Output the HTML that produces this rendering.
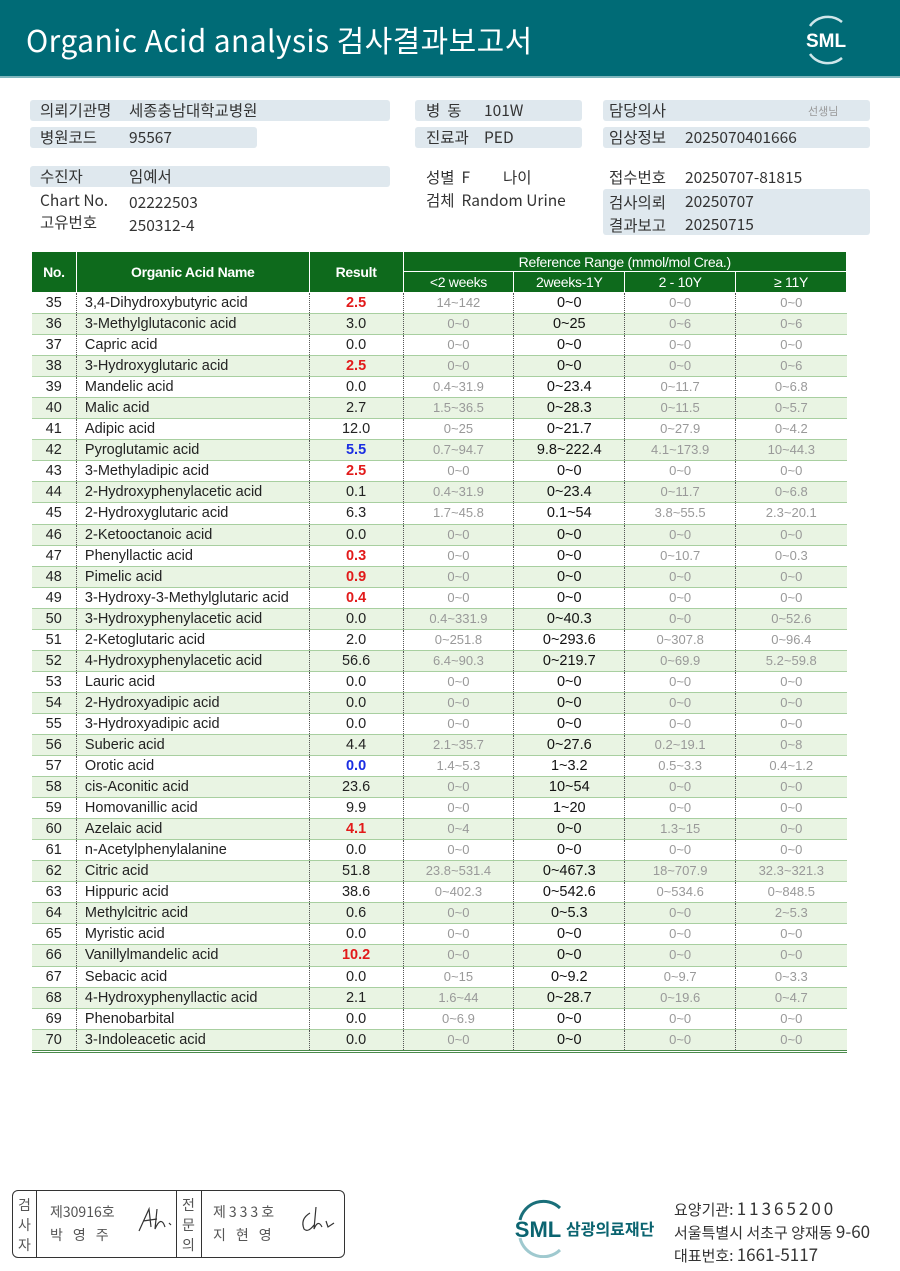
<!DOCTYPE html>
<html><head><meta charset="utf-8">
<style>
*{margin:0;padding:0;box-sizing:border-box}
body{width:900px;height:1271px;background:#fff;position:relative;overflow:hidden;font-family:"Liberation Sans","Noto Sans CJK KR",sans-serif;color:#222}
.hdr{position:absolute;left:0;top:0;width:900px;height:78px;background:#006b76;border-bottom:2px solid #7fb6bd}
.title{position:absolute;left:26px;top:17px;color:#fff;font-size:30px;letter-spacing:0.4px;font-family:"Noto Sans CJK KR","Liberation Sans",sans-serif}
.box{position:absolute;background:#dfe8ee;border-radius:3px}
.t{position:absolute;font-size:15.5px;color:#333;font-family:"Noto Sans CJK KR","Liberation Sans",sans-serif;line-height:20px;white-space:nowrap}
table{position:absolute;left:31px;top:251px;border-collapse:collapse;width:816px;font-size:14.5px}
th{background:#0e6a1c;color:#fff;font-weight:bold;font-size:14px;border:1px solid #fff;letter-spacing:-0.3px}
td{height:21.06px;border-bottom:1px solid #a8cfa0;border-right:1px dotted #555;text-align:center;padding:0;line-height:20px}
td:last-child{border-right:none}
td:nth-child(2){text-align:left;padding-left:8px}
tr.e td{background:#e9f4e3}
td.g{color:#999;font-size:13px}
td.b{color:#111}
.r{color:#e21a1a;font-weight:bold}
.bl{color:#1a2ee2;font-weight:bold}
tbody tr:last-child td{border-bottom:3px double #4a8a4a}
</style></head><body>
<div class="hdr"></div>
<div class="title">Organic Acid analysis 검사결과보고서</div>
<svg style="position:absolute;left:800px;top:12px" width="52" height="54" viewBox="0 0 52 54">
<path d="M10 14 A22 22 0 0 1 42 10" fill="none" stroke="#cfe6ea" stroke-width="2.5"/>
<path d="M10 42 A22 22 0 0 0 42 46" fill="none" stroke="#cfe6ea" stroke-width="2.5"/>
<text x="26" y="35" fill="#fff" font-size="19" font-weight="bold" text-anchor="middle" font-family="Liberation Sans">SML</text>
</svg>

<div class="box" style="left:30px;top:100px;width:360px;height:21px"></div>
<div class="box" style="left:30px;top:127px;width:227px;height:21px"></div>
<div class="box" style="left:415px;top:100px;width:167px;height:21px"></div>
<div class="box" style="left:415px;top:127px;width:167px;height:21px"></div>
<div class="box" style="left:603px;top:100px;width:267px;height:21px"></div>
<div class="box" style="left:603px;top:127px;width:267px;height:21px"></div>
<div class="box" style="left:30px;top:166px;width:360px;height:21px"></div>
<div class="box" style="left:603px;top:189px;width:267px;height:46px"></div>

<div class="t" style="left:40px;top:100px">의뢰기관명</div><div class="t" style="left:129px;top:100px">세종충남대학교병원</div>
<div class="t" style="left:40px;top:127px">병원코드</div><div class="t" style="left:129px;top:127px">95567</div>
<div class="t" style="left:426px;top:100px">병 &nbsp;동</div><div class="t" style="left:484px;top:100px">101W</div>
<div class="t" style="left:426px;top:127px">진료과</div><div class="t" style="left:484px;top:127px">PED</div>
<div class="t" style="left:609px;top:100px">담당의사</div><div class="t" style="left:808px;top:101px;font-size:11px;color:#999">선생님</div>
<div class="t" style="left:609px;top:127px">임상정보</div><div class="t" style="left:685px;top:127px">2025070401666</div>
<div class="t" style="left:40px;top:166px">수진자</div><div class="t" style="left:129px;top:166px">임예서</div>
<div class="t" style="left:40px;top:190px">Chart No.</div><div class="t" style="left:129px;top:192px">02222503</div>
<div class="t" style="left:40px;top:212px">고유번호</div><div class="t" style="left:129px;top:215px">250312-4</div>
<div class="t" style="left:426px;top:167px">성별 &nbsp;F</div><div class="t" style="left:503px;top:167px">나이</div>
<div class="t" style="left:426px;top:190px">검체 &nbsp;Random Urine</div>
<div class="t" style="left:609px;top:167px">접수번호</div><div class="t" style="left:685px;top:167px">20250707-81815</div>
<div class="t" style="left:609px;top:192px">검사의뢰</div><div class="t" style="left:685px;top:191px">20250707</div>
<div class="t" style="left:609px;top:215px">결과보고</div><div class="t" style="left:685px;top:214px">20250715</div>

<table>
<colgroup><col style="width:45px"><col style="width:233px"><col style="width:94px"><col style="width:111px"><col style="width:111px"><col style="width:111px"><col style="width:111px"></colgroup>
<thead>
<tr><th rowspan="2" style="height:41px">No.</th><th rowspan="2">Organic Acid Name</th><th rowspan="2">Result</th><th colspan="4" style="height:20px;font-weight:normal">Reference Range (mmol/mol Crea.)</th></tr>
<tr><th style="height:21px;font-weight:normal">&lt;2 weeks</th><th style="font-weight:normal">2weeks-1Y</th><th style="font-weight:normal">2 - 10Y</th><th style="font-weight:normal">≥ 11Y</th></tr>
</thead>
<tbody>
<tr><td>35</td><td>3,4-Dihydroxybutyric acid</td><td class="r">2.5</td><td class="g">14~142</td><td class="b">0~0</td><td class="g">0~0</td><td class="g">0~0</td></tr>
<tr class="e"><td>36</td><td>3-Methylglutaconic acid</td><td>3.0</td><td class="g">0~0</td><td class="b">0~25</td><td class="g">0~6</td><td class="g">0~6</td></tr>
<tr><td>37</td><td>Capric acid</td><td>0.0</td><td class="g">0~0</td><td class="b">0~0</td><td class="g">0~0</td><td class="g">0~0</td></tr>
<tr class="e"><td>38</td><td>3-Hydroxyglutaric acid</td><td class="r">2.5</td><td class="g">0~0</td><td class="b">0~0</td><td class="g">0~0</td><td class="g">0~6</td></tr>
<tr><td>39</td><td>Mandelic acid</td><td>0.0</td><td class="g">0.4~31.9</td><td class="b">0~23.4</td><td class="g">0~11.7</td><td class="g">0~6.8</td></tr>
<tr class="e"><td>40</td><td>Malic acid</td><td>2.7</td><td class="g">1.5~36.5</td><td class="b">0~28.3</td><td class="g">0~11.5</td><td class="g">0~5.7</td></tr>
<tr><td>41</td><td>Adipic acid</td><td>12.0</td><td class="g">0~25</td><td class="b">0~21.7</td><td class="g">0~27.9</td><td class="g">0~4.2</td></tr>
<tr class="e"><td>42</td><td>Pyroglutamic acid</td><td class="bl">5.5</td><td class="g">0.7~94.7</td><td class="b">9.8~222.4</td><td class="g">4.1~173.9</td><td class="g">10~44.3</td></tr>
<tr><td>43</td><td>3-Methyladipic acid</td><td class="r">2.5</td><td class="g">0~0</td><td class="b">0~0</td><td class="g">0~0</td><td class="g">0~0</td></tr>
<tr class="e"><td>44</td><td>2-Hydroxyphenylacetic acid</td><td>0.1</td><td class="g">0.4~31.9</td><td class="b">0~23.4</td><td class="g">0~11.7</td><td class="g">0~6.8</td></tr>
<tr><td>45</td><td>2-Hydroxyglutaric acid</td><td>6.3</td><td class="g">1.7~45.8</td><td class="b">0.1~54</td><td class="g">3.8~55.5</td><td class="g">2.3~20.1</td></tr>
<tr class="e"><td>46</td><td>2-Ketooctanoic acid</td><td>0.0</td><td class="g">0~0</td><td class="b">0~0</td><td class="g">0~0</td><td class="g">0~0</td></tr>
<tr><td>47</td><td>Phenyllactic acid</td><td class="r">0.3</td><td class="g">0~0</td><td class="b">0~0</td><td class="g">0~10.7</td><td class="g">0~0.3</td></tr>
<tr class="e"><td>48</td><td>Pimelic acid</td><td class="r">0.9</td><td class="g">0~0</td><td class="b">0~0</td><td class="g">0~0</td><td class="g">0~0</td></tr>
<tr><td>49</td><td>3-Hydroxy-3-Methylglutaric acid</td><td class="r">0.4</td><td class="g">0~0</td><td class="b">0~0</td><td class="g">0~0</td><td class="g">0~0</td></tr>
<tr class="e"><td>50</td><td>3-Hydroxyphenylacetic acid</td><td>0.0</td><td class="g">0.4~331.9</td><td class="b">0~40.3</td><td class="g">0~0</td><td class="g">0~52.6</td></tr>
<tr><td>51</td><td>2-Ketoglutaric acid</td><td>2.0</td><td class="g">0~251.8</td><td class="b">0~293.6</td><td class="g">0~307.8</td><td class="g">0~96.4</td></tr>
<tr class="e"><td>52</td><td>4-Hydroxyphenylacetic acid</td><td>56.6</td><td class="g">6.4~90.3</td><td class="b">0~219.7</td><td class="g">0~69.9</td><td class="g">5.2~59.8</td></tr>
<tr><td>53</td><td>Lauric acid</td><td>0.0</td><td class="g">0~0</td><td class="b">0~0</td><td class="g">0~0</td><td class="g">0~0</td></tr>
<tr class="e"><td>54</td><td>2-Hydroxyadipic acid</td><td>0.0</td><td class="g">0~0</td><td class="b">0~0</td><td class="g">0~0</td><td class="g">0~0</td></tr>
<tr><td>55</td><td>3-Hydroxyadipic acid</td><td>0.0</td><td class="g">0~0</td><td class="b">0~0</td><td class="g">0~0</td><td class="g">0~0</td></tr>
<tr class="e"><td>56</td><td>Suberic acid</td><td>4.4</td><td class="g">2.1~35.7</td><td class="b">0~27.6</td><td class="g">0.2~19.1</td><td class="g">0~8</td></tr>
<tr><td>57</td><td>Orotic acid</td><td class="bl">0.0</td><td class="g">1.4~5.3</td><td class="b">1~3.2</td><td class="g">0.5~3.3</td><td class="g">0.4~1.2</td></tr>
<tr class="e"><td>58</td><td>cis-Aconitic acid</td><td>23.6</td><td class="g">0~0</td><td class="b">10~54</td><td class="g">0~0</td><td class="g">0~0</td></tr>
<tr><td>59</td><td>Homovanillic acid</td><td>9.9</td><td class="g">0~0</td><td class="b">1~20</td><td class="g">0~0</td><td class="g">0~0</td></tr>
<tr class="e"><td>60</td><td>Azelaic acid</td><td class="r">4.1</td><td class="g">0~4</td><td class="b">0~0</td><td class="g">1.3~15</td><td class="g">0~0</td></tr>
<tr><td>61</td><td>n-Acetylphenylalanine</td><td>0.0</td><td class="g">0~0</td><td class="b">0~0</td><td class="g">0~0</td><td class="g">0~0</td></tr>
<tr class="e"><td>62</td><td>Citric acid</td><td>51.8</td><td class="g">23.8~531.4</td><td class="b">0~467.3</td><td class="g">18~707.9</td><td class="g">32.3~321.3</td></tr>
<tr><td>63</td><td>Hippuric acid</td><td>38.6</td><td class="g">0~402.3</td><td class="b">0~542.6</td><td class="g">0~534.6</td><td class="g">0~848.5</td></tr>
<tr class="e"><td>64</td><td>Methylcitric acid</td><td>0.6</td><td class="g">0~0</td><td class="b">0~5.3</td><td class="g">0~0</td><td class="g">2~5.3</td></tr>
<tr><td>65</td><td>Myristic acid</td><td>0.0</td><td class="g">0~0</td><td class="b">0~0</td><td class="g">0~0</td><td class="g">0~0</td></tr>
<tr class="e"><td>66</td><td>Vanillylmandelic acid</td><td class="r">10.2</td><td class="g">0~0</td><td class="b">0~0</td><td class="g">0~0</td><td class="g">0~0</td></tr>
<tr><td>67</td><td>Sebacic acid</td><td>0.0</td><td class="g">0~15</td><td class="b">0~9.2</td><td class="g">0~9.7</td><td class="g">0~3.3</td></tr>
<tr class="e"><td>68</td><td>4-Hydroxyphenyllactic acid</td><td>2.1</td><td class="g">1.6~44</td><td class="b">0~28.7</td><td class="g">0~19.6</td><td class="g">0~4.7</td></tr>
<tr><td>69</td><td>Phenobarbital</td><td>0.0</td><td class="g">0~6.9</td><td class="b">0~0</td><td class="g">0~0</td><td class="g">0~0</td></tr>
<tr class="e"><td>70</td><td>3-Indoleacetic acid</td><td>0.0</td><td class="g">0~0</td><td class="b">0~0</td><td class="g">0~0</td><td class="g">0~0</td></tr>
</tbody></table>

<div style="position:absolute;left:12px;top:1190px;width:333px;height:68px;border:1px solid #333;border-radius:6px"></div>
<div style="position:absolute;left:36px;top:1190px;width:1px;height:68px;background:#333"></div>
<div style="position:absolute;left:176px;top:1190px;width:1px;height:68px;background:#333"></div>
<div style="position:absolute;left:201px;top:1190px;width:1px;height:68px;background:#333"></div>
<div class="t" style="left:18px;top:1195px;font-size:14px;line-height:20px;color:#555">검<br>사<br>자</div>
<div class="t" style="left:182px;top:1195px;font-size:14px;line-height:20px;color:#555">전<br>문<br>의</div>
<div class="t" style="left:50px;top:1202px;font-size:14px;color:#555">제30916호</div>
<div class="t" style="left:50px;top:1225px;font-size:14px;color:#555;letter-spacing:10px">박영주</div>
<div class="t" style="left:213px;top:1202px;font-size:14px;color:#555;letter-spacing:3px">제333호</div>
<div class="t" style="left:213px;top:1225px;font-size:14px;color:#555;letter-spacing:10px">지현영</div>
<svg style="position:absolute;left:135px;top:1205px" width="40" height="30"><path d="M4 26 L14 4 L16 22 M8 16 L22 14 M22 4 L20 24 Q26 10 30 22 M34 18 L36 20" fill="none" stroke="#333" stroke-width="1.2"/></svg>
<svg style="position:absolute;left:298px;top:1205px" width="40" height="30"><path d="M12 8 Q2 14 6 24 Q10 28 16 20 M18 2 L16 24 Q20 14 24 22 M28 16 L30 22 L36 18" fill="none" stroke="#333" stroke-width="1.2"/></svg>

<svg style="position:absolute;left:508px;top:1198px" width="60" height="60" viewBox="0 0 60 60">
<path d="M12 22 A24 24 0 0 1 52 10" fill="none" stroke="#1a6f7a" stroke-width="3"/>
<path d="M12 40 A24 24 0 0 0 52 52" fill="none" stroke="#9fc9cf" stroke-width="3"/>
<text x="30" y="39" fill="#0b6470" font-size="22" font-weight="bold" text-anchor="middle" font-family="Liberation Sans">SML</text>
</svg>
<div class="t" style="left:566px;top:1218px;font-size:16px;font-weight:bold;color:#0b6470">삼광의료재단</div>
<div class="t" style="left:674px;top:1198px;font-size:15px;color:#333">요양기관: <span style="font-size:17px;letter-spacing:3px">11365200</span></div>
<div class="t" style="left:674px;top:1221px;font-size:15px;color:#333">서울특별시 서초구 양재동 <span style="font-size:17px">9-60</span></div>
<div class="t" style="left:674px;top:1244px;font-size:15px;color:#333">대표번호: <span style="font-size:17px">1661-5117</span></div>
</body></html>
